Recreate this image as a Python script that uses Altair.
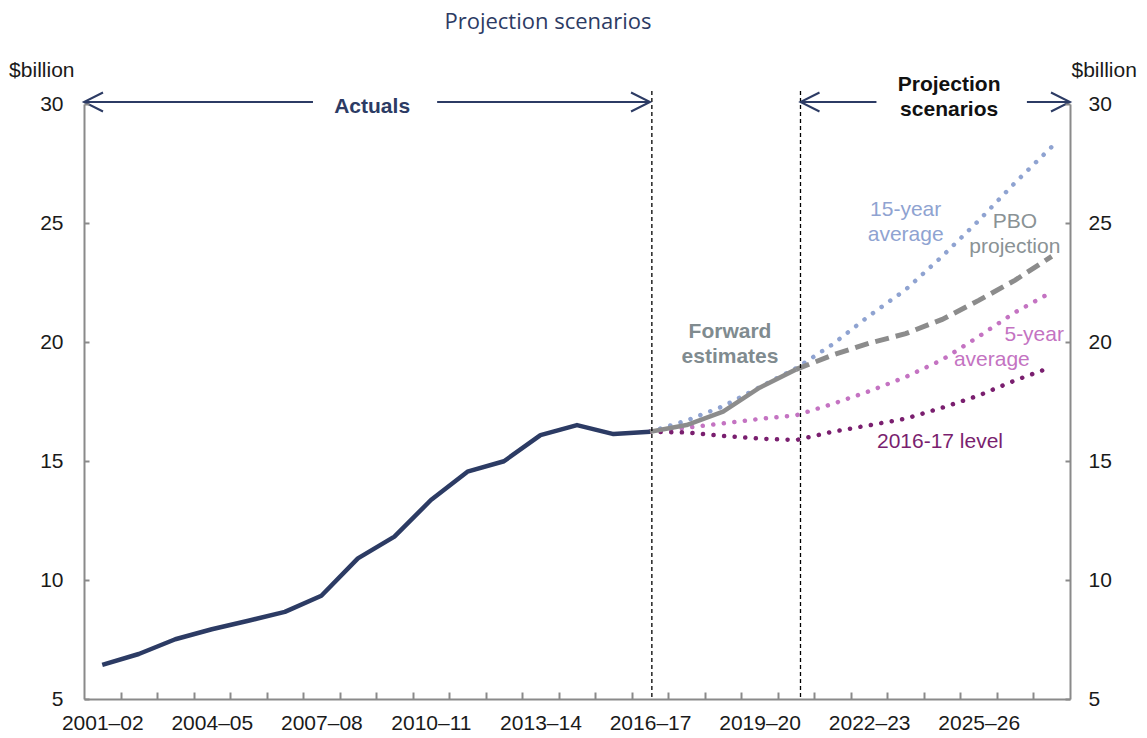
import json
import altair as alt
import pandas as pd

# ---------------- data ----------------
years = ['2001–02', '2002–03', '2003–04', '2004–05', '2005–06', '2006–07', '2007–08',
         '2008–09', '2009–10', '2010–11', '2011–12', '2012–13', '2013–14', '2014–15',
         '2015–16', '2016–17', '2017–18', '2018–19', '2019–20', '2020–21', '2021–22',
         '2022–23', '2023–24', '2024–25', '2025–26', '2026–27', '2027–28']

actuals = [6.43, 6.89, 7.51, 7.93, 8.29, 8.66, 9.34, 10.91, 11.82, 13.36, 14.55,
           14.99, 16.09, 16.51, 16.13, 16.23]                       # 2001–02 .. 2016–17
forward_estimates = [16.23, 16.51, 17.07, 18.08, 18.85]               # 2016–17 .. 2020–21
pbo_projection = [18.85, 19.45, 19.95, 20.35, 20.95, 21.75, 22.6, 23.6]  # 2020–21 .. 2027–28
avg_15yr = [16.23, 16.7, 17.3, 18.1, 18.9, 19.9, 21.1, 22.2, 23.6, 25.1, 26.7, 28.2]     # 2016–17 ..
avg_5yr = [16.23, 16.4, 16.58, 16.77, 16.92, 17.4, 17.93, 18.53, 19.25, 20.23, 21.25, 22.1]
level_2016 = [16.23, 16.2, 16.05, 15.94, 15.88, 16.23, 16.5, 16.78, 17.24, 17.75, 18.39, 18.95]

series_names = ['Actuals', 'Forward estimates', 'PBO projection',
                '15-year average', '5-year average', '2016-17 level']
series_colors = ['#2C3B64', '#8C8C8C', '#8C8C8C', '#8FA3D1', '#C473C2', '#7A1F6F']

y_ticks = [5, 10, 15, 20, 25, 30]

# annotation texts (positions in data units: year index, $billion; y = first line)
ann_text = ['Actuals', 'Projection\nscenarios', 'Forward\nestimates', '15-year\naverage',
            'PBO\nprojection', '5-year', 'average', '2016-17 level']
ann_x = [7.39, 23.19, 17.19, 22.0, 24.99, 25.52, 24.36, 22.94]
ann_y = [29.87, 30.8, 20.43, 25.55, 25.04, 20.29, 19.24, 15.81]
ann_color = ['#2C3B64', '#111111', '#808B8F', '#8FA3D1', '#8A9295', '#C473C2', '#C473C2', '#7A1F6F']
ann_bold = [True, True, True, False, False, False, False, False]

# period markers and arrows (year index)
divider_x = [15.05, 19.12]
arrow_from = [-0.5, 9.17, 19.12, 25.32]
arrow_to = [5.77, 15.0, 21.2, 26.5]
head_x = [-0.5, 15.0, 19.12, 26.5]
head_dir = ['left', 'right', 'left', 'right']

# ---------------- tables ----------------
def rows(name, start, vals):
    return [{'series': name, 'idx': start + i, 'value': v} for i, v in enumerate(vals)]

lines = pd.DataFrame(
    rows('Actuals', 0, actuals)
    + rows('Forward estimates', 15, forward_estimates)
    + rows('PBO projection', 19, pbo_projection)
    + rows('15-year average', 15, avg_15yr)
    + rows('5-year average', 15, avg_5yr)
    + rows('2016-17 level', 15, level_2016)
)
ann = pd.DataFrame({'text': ann_text, 'x': ann_x, 'y': ann_y, 'color': ann_color, 'bold': ann_bold})
div_df = pd.DataFrame({'x': divider_x})
arr_df = pd.DataFrame({'x': arrow_from, 'x2': arrow_to})
head_df = pd.DataFrame({'x': head_x, 'dir': head_dir})

# ---------------- scales & axes ----------------
FONT = 'Liberation Sans'
FS = 21
AXIS_GREY = '#8A8A8A'
LABEL = '#1A1A1A'

x_values = sorted([i + 0.5 for i in range(26)] + list(range(0, 27, 3)))
x_label_expr = ("datum.value % 1 == 0 ? " + json.dumps(years, ensure_ascii=False)
                + "[datum.value] : ''")
x_scale = alt.Scale(domain=[-0.5, 26.5], nice=False, zero=False)
x_axis = alt.Axis(values=x_values, labelExpr=x_label_expr, title=None, grid=False,
                  tickSize={'expr': '-7'}, tickWidth=2, tickColor=AXIS_GREY,
                  tickOpacity={'condition': {'test': 'datum.value % 1 == 0', 'value': 0}, 'value': 1},
                  domainColor=AXIS_GREY, domainWidth=2, labelFont=FONT, labelFontSize=FS,
                  labelColor=LABEL, labelPadding=20, labelFlush=False, labelOverlap=False)

y_scale = alt.Scale(domain=[5, 30], nice=False, zero=False)

def y_axis(orient):
    return alt.Axis(orient=orient, values=y_ticks, grid=False, title='$billion',
                    titleAngle=0, titleAlign='right' if orient == 'left' else 'left',
                    titleX=-10 if orient == 'left' else 1, titleY=-28,
                    titleBaseline='alphabetic', titleFont=FONT, titleFontSize=FS,
                    titleFontWeight='normal', titleColor=LABEL,
                    tickSize={'expr': '-5'}, tickWidth=2, tickColor=AXIS_GREY,
                    domainColor=AXIS_GREY, domainWidth=2, labelFont=FONT, labelFontSize=FS,
                    labelColor=LABEL, labelPadding=26 if orient == 'left' else 23,
                    labelFlush=False, zindex=1)

def X(field):
    return alt.X(field, type='quantitative', scale=x_scale, axis=x_axis)

color = alt.Color('series:N', scale=alt.Scale(domain=series_names, range=series_colors), legend=None)

dotted = alt.Chart(lines).transform_filter(
    alt.FieldOneOfPredicate(field='series', oneOf=['15-year average', '5-year average', '2016-17 level'])
).mark_line(strokeWidth=4.5, strokeDash=[0.1, 10.5], strokeCap='round').encode(
    x=X('idx'), y=alt.Y('value:Q', scale=y_scale, axis=None), color=color)

solid = alt.Chart(lines).transform_filter(
    alt.FieldOneOfPredicate(field='series', oneOf=['Actuals', 'Forward estimates'])
).mark_line(strokeWidth=4.5, strokeJoin='round').encode(
    x=X('idx'), y=alt.Y('value:Q', scale=y_scale, axis=y_axis('left')), color=color)

dashed = alt.Chart(lines).transform_filter(
    alt.datum.series == 'PBO projection'
).mark_line(strokeWidth=5, strokeDash=[14, 7]).encode(
    x=X('idx'), y=alt.Y('value:Q', scale=y_scale, axis=y_axis('right')), color=color)

dividers = alt.Chart(div_df).mark_rule(color='#000000', strokeWidth=1.3, strokeDash=[4, 3]).encode(
    x=X('x'), y=alt.value(-13), y2=alt.value(595))

arrows = alt.Chart(arr_df).mark_rule(color='#2C3B64', strokeWidth=2).encode(
    x=X('x'), x2='x2', y=alt.value(-2))

path_left = 'M1,-0.5L0,0L1,0.5'
path_right = 'M-1,-0.5L0,0L-1,0.5'
heads = alt.Chart(head_df).mark_point(filled=False, size=1444, strokeWidth=2, opacity=1,
                                      color='#2C3B64').encode(
    x=X('x'), y=alt.value(-2),
    shape=alt.Shape('dir:N', scale=alt.Scale(domain=['left', 'right'], range=[path_left, path_right]),
                    legend=None))

text_bold = alt.Chart(ann).transform_filter(alt.datum.bold == True).mark_text(
    font=FONT, fontSize=FS, fontWeight='bold', lineBreak='\n', lineHeight=25,
    align='center', baseline='middle').encode(
    x=X('x'), y=alt.Y('y:Q', scale=y_scale, axis=None), text='text:N',
    color=alt.Color('color:N', scale=None))

text_norm = alt.Chart(ann).transform_filter(alt.datum.bold == False).mark_text(
    font=FONT, fontSize=FS, lineBreak='\n', lineHeight=25, clip=True,
    align='center', baseline='middle').encode(
    x=X('x'), y=alt.Y('y:Q', scale=y_scale, axis=None), text='text:N',
    color=alt.Color('color:N', scale=None))

chart = alt.layer(dotted, solid, dashed, dividers, arrows, heads, text_bold, text_norm).resolve_axis(
    y='independent'
).properties(
    width=986, height=595,
    autosize=alt.AutoSizeParams(type='none'),
    padding={'left': 76, 'top': 96, 'right': 69, 'bottom': 42},
    title=alt.TitleParams('Projection scenarios', font='Open Sans', fontSize=22,
                          fontWeight='normal', color='#2C3B64', anchor='middle', dx=-29, offset=25),
).configure_view(stroke=None)

chart.save('out.html', embed_options={'renderer': 'svg', 'actions': False})
